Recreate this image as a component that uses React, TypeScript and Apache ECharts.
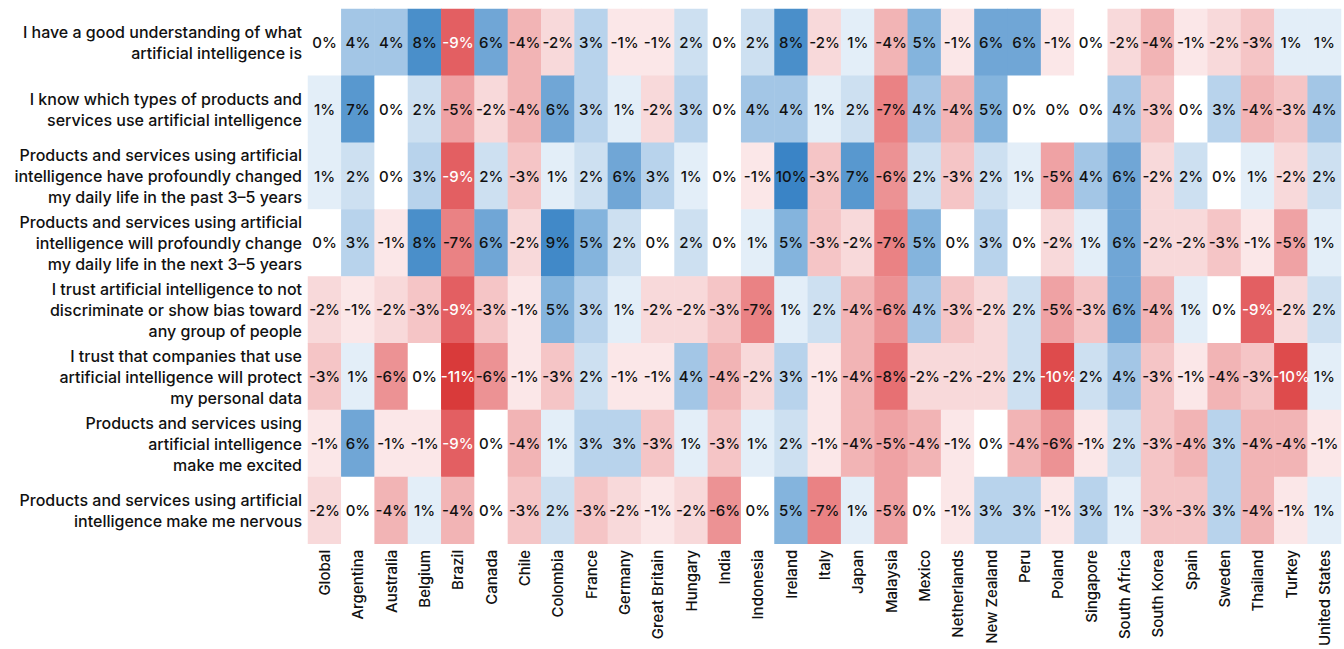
import React, { useEffect, useRef } from "react";
import * as echarts from "echarts";

const countries = [
  "Global", "Argentina", "Australia", "Belgium", "Brazil", "Canada", "Chile", "Colombia",
  "France", "Germany", "Great Britain", "Hungary", "India", "Indonesia", "Ireland", "Italy",
  "Japan", "Malaysia", "Mexico", "Netherlands", "New Zealand", "Peru", "Poland", "Singapore",
  "South Africa", "South Korea", "Spain", "Sweden", "Thailand", "Turkey", "United States",
];

const statements = [
  "I have a good understanding of what\nartificial intelligence is",
  "I know which types of products and\nservices use artificial intelligence",
  "Products and services using artificial\nintelligence have profoundly changed\nmy daily life in the past 3–5 years",
  "Products and services using artificial\nintelligence will profoundly change\nmy daily life in the next 3–5 years",
  "I trust artificial intelligence to not\ndiscriminate or show bias toward\nany group of people",
  "I trust that companies that use\nartificial intelligence will protect\nmy personal data",
  "Products and services using\nartificial intelligence\nmake me excited",
  "Products and services using artificial\nintelligence make me nervous",
];

const rowUnderstanding = [0, 4, 4, 8, -9, 6, -4, -2, 3, -1, -1, 2, 0, 2, 8, -2, 1, -4, 5, -1, 6, 6, -1, 0, -2, -4, -1, -2, -3, 1, 1];
const rowKnowProducts = [1, 7, 0, 2, -5, -2, -4, 6, 3, 1, -2, 3, 0, 4, 4, 1, 2, -7, 4, -4, 5, 0, 0, 0, 4, -3, 0, 3, -4, -3, 4];
const rowChangedPast = [1, 2, 0, 3, -9, 2, -3, 1, 2, 6, 3, 1, 0, -1, 10, -3, 7, -6, 2, -3, 2, 1, -5, 4, 6, -2, 2, 0, 1, -2, 2];
const rowChangeNext = [0, 3, -1, 8, -7, 6, -2, 9, 5, 2, 0, 2, 0, 1, 5, -3, -2, -7, 5, 0, 3, 0, -2, 1, 6, -2, -2, -3, -1, -5, 1];
const rowTrustBias = [-2, -1, -2, -3, -9, -3, -1, 5, 3, 1, -2, -2, -3, -7, 1, 2, -4, -6, 4, -3, -2, 2, -5, -3, 6, -4, 1, 0, -9, -2, 2];
const rowTrustData = [-3, 1, -6, 0, -11, -6, -1, -3, 2, -1, -1, 4, -4, -2, 3, -1, -4, -8, -2, -2, -2, 2, -10, 2, 4, -3, -1, -4, -3, -10, 1];
const rowExcited = [-1, 6, -1, -1, -9, 0, -4, 1, 3, 3, -3, 1, -3, 1, 2, -1, -4, -5, -4, -1, 0, -4, -6, -1, 2, -3, -4, 3, -4, -4, -1];
const rowNervous = [-2, 0, -4, 1, -4, 0, -3, 2, -3, -2, -1, -2, -6, 0, 5, -7, 1, -5, 0, -1, 3, 3, -1, 3, 1, -3, -3, 3, -4, -1, 1];

const rows = [
  rowUnderstanding, rowKnowProducts, rowChangedPast, rowChangeNext,
  rowTrustBias, rowTrustData, rowExcited, rowNervous,
];

// colour stops, one per integer value from -11 to 11
const colorStops = [
  "#d93a3a", "#de4b4c", "#e35f62", "#e77073", "#ea8284", "#ec9294", "#efa2a4", "#f2b4b5",
  "#f5c5c6", "#f8d9da", "#fbe7e8", "#ffffff", "#e3eef8", "#cde0f1", "#b8d3ec", "#a3c6e6",
  "#84b4dd", "#70a6d6", "#5898cf", "#4a8fca", "#4189c8", "#3a84c6", "#327ec2",
];

const FONT = "Inter, 'Noto Sans', sans-serif";

export default function App() {
  const ref = useRef<HTMLDivElement>(null);
  useEffect(() => {
    if (!ref.current) return;
    const chart = echarts.init(ref.current, null, { renderer: "svg" });
    const data: any[] = [];
    rows.forEach((row, yi) => {
      row.forEach((v, xi) => {
        data.push({
          value: [xi, yi, v],
          label: { color: v <= -9 ? "#ffffff" : "#111111" },
        });
      });
    });
    chart.setOption({
      animation: false,
      backgroundColor: "#ffffff",
      grid: { left: 308, right: 3, top: 9, bottom: 102 },
      xAxis: {
        type: "category",
        data: countries,
        axisLine: { show: false },
        axisTick: { show: false },
        splitArea: { show: false },
        axisLabel: {
          rotate: 90,
          interval: 0,
          margin: 6,
          fontSize: 15,
          fontWeight: 500,
          color: "#111",
          fontFamily: FONT,
        },
      },
      yAxis: {
        type: "category",
        data: statements,
        inverse: true,
        axisLine: { show: false },
        axisTick: { show: false },
        axisLabel: {
          margin: 6,
          fontSize: 16,
          fontWeight: 500,
          lineHeight: 21,
          color: "#111",
          align: "right",
          fontFamily: FONT,
        },
      },
      visualMap: {
        show: false,
        type: "continuous",
        min: -11,
        max: 11,
        dimension: 2,
        inRange: { color: colorStops },
      },
      series: [
        {
          type: "heatmap",
          data,
          label: {
            show: true,
            fontSize: 15,
            fontWeight: 500,
            fontFamily: FONT,
            formatter: (p: any) => p.value[2] + "%",
          },
          itemStyle: { borderWidth: 0 },
          emphasis: { disabled: true },
        },
      ],
    });
    return () => chart.dispose();
  }, []);
  return <div ref={ref} style={{ width: 1344, height: 649, position: "absolute", left: 0, top: 0 }} />;
}
